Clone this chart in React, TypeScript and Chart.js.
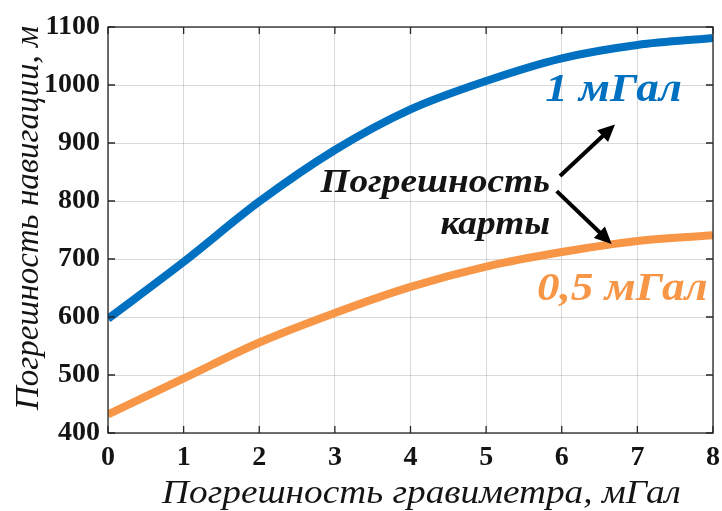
import React, { useEffect, useRef } from "react";
import { Chart, registerables } from "chart.js";

Chart.register(...registerables);

// ---- data ----
const xValues = [0, 1, 2, 3, 4, 5, 6, 7, 8];
const error1mGal = [597, 695, 799, 888, 958, 1007, 1046, 1069, 1081];
const error05mGal = [432, 494, 556, 607, 652, 687, 712, 731, 741];
const seriesLabels = ["1 мГал", "0,5 мГал"];
const xTitle = "Погрешность гравиметра, мГал";
const yTitle = "Погрешность навигации, м";
const noteLines = ["Погрешность", "карты"];

const BLUE = "#0070C0";
const ORANGE = "#F79646";
const TEXT = "#141414";
const FONT = "'Liberation Serif', 'Times New Roman', serif";
const STRETCH = 1.13;

// annotation anchors in data coordinates (right-aligned text baselines)
const textNotes = [
  { text: seriesLabels[0], x: 7.59, y: 972, color: BLUE, size: 40 },
  { text: seriesLabels[1], x: 7.93, y: 629, color: ORANGE, size: 40 },
  { text: noteLines[0], x: 5.845, y: 815, color: TEXT, size: 33 },
  { text: noteLines[1], x: 5.845, y: 743, color: TEXT, size: 33 },
];
const arrows = [
  { x0: 5.977, y0: 843, x1: 6.704, y1: 932 },
  { x0: 5.933, y0: 817, x1: 6.66, y1: 726 },
];

function stretchedText(ctx: any, text: string, x: number, y: number, align: "right" | "center") {
  ctx.save();
  ctx.translate(x, y);
  ctx.scale(STRETCH, 1);
  ctx.textAlign = align;
  ctx.fillText(text, 0, 0);
  ctx.restore();
}

const framePlugin = {
  id: "frame",
  afterDatasetsDraw(chart: any) {
    const { ctx, chartArea: a, scales } = chart;
    const xs = scales.x;
    const ys = scales.y;
    ctx.save();
    // box
    ctx.strokeStyle = "#262626";
    ctx.lineWidth = 1.3;
    ctx.strokeRect(a.left, a.top, a.right - a.left, a.bottom - a.top);
    // inward ticks
    const tl = 7;
    ctx.beginPath();
    xs.ticks.forEach((t: any) => {
      const px = xs.getPixelForValue(t.value);
      ctx.moveTo(px, a.bottom);
      ctx.lineTo(px, a.bottom - tl);
      ctx.moveTo(px, a.top);
      ctx.lineTo(px, a.top + tl);
    });
    ys.ticks.forEach((t: any) => {
      const py = ys.getPixelForValue(t.value);
      ctx.moveTo(a.left, py);
      ctx.lineTo(a.left + tl, py);
      ctx.moveTo(a.right, py);
      ctx.lineTo(a.right - tl, py);
    });
    ctx.stroke();

    // text notes
    ctx.textBaseline = "alphabetic";
    textNotes.forEach((n) => {
      ctx.font = `italic bold ${n.size}px ${FONT}`;
      ctx.fillStyle = n.color;
      stretchedText(ctx, n.text, xs.getPixelForValue(n.x), ys.getPixelForValue(n.y), "right");
    });

    // arrows
    ctx.strokeStyle = "#000";
    ctx.fillStyle = "#000";
    ctx.lineWidth = 4;
    arrows.forEach((ar) => {
      const x0 = xs.getPixelForValue(ar.x0);
      const y0 = ys.getPixelForValue(ar.y0);
      const x1 = xs.getPixelForValue(ar.x1);
      const y1 = ys.getPixelForValue(ar.y1);
      const ang = Math.atan2(y1 - y0, x1 - x0);
      const hl = 17;
      const hw = 8;
      const bx = x1 - hl * Math.cos(ang);
      const by = y1 - hl * Math.sin(ang);
      ctx.beginPath();
      ctx.moveTo(x0, y0);
      ctx.lineTo(bx + 2 * Math.cos(ang), by + 2 * Math.sin(ang));
      ctx.stroke();
      ctx.beginPath();
      ctx.moveTo(x1, y1);
      ctx.lineTo(bx + hw * Math.sin(ang), by - hw * Math.cos(ang));
      ctx.lineTo(bx - hw * Math.sin(ang), by + hw * Math.cos(ang));
      ctx.closePath();
      ctx.fill();
    });

    // axis titles
    ctx.fillStyle = TEXT;
    ctx.font = `italic 33px ${FONT}`;
    ctx.textBaseline = "alphabetic";
    stretchedText(ctx, xTitle, (a.left + a.right) / 2 + 11, a.bottom + 70, "center");
    ctx.save();
    ctx.translate(a.left - 70, (a.top + a.bottom) / 2 - 12);
    ctx.rotate(-Math.PI / 2);
    ctx.textAlign = "center";
    ctx.fillText(yTitle, 0, 0);
    ctx.restore();
    ctx.restore();
  },
};

export default function App() {
  const ref = useRef<HTMLCanvasElement | null>(null);
  useEffect(() => {
    if (!ref.current) return;
    const chart = new Chart(ref.current, {
      type: "line",
      data: {
        datasets: [
          {
            label: seriesLabels[0],
            data: xValues.map((x, i) => ({ x, y: error1mGal[i] })),
            borderColor: BLUE,
            borderWidth: 8,
            pointRadius: 0,
            cubicInterpolationMode: "monotone",
            borderCapStyle: "butt",
            clip: 0,
          },
          {
            label: seriesLabels[1],
            data: xValues.map((x, i) => ({ x, y: error05mGal[i] })),
            borderColor: ORANGE,
            borderWidth: 8,
            pointRadius: 0,
            cubicInterpolationMode: "monotone",
            borderCapStyle: "butt",
            clip: 0,
          },
        ],
      },
      options: {
        animation: false,
        responsive: true,
        maintainAspectRatio: false,
        layout: { padding: { top: 27, right: 9, left: 0, bottom: 0 } },
        plugins: { legend: { display: false }, tooltip: { enabled: false } },
        scales: {
          x: {
            type: "linear",
            min: 0,
            max: 8,
            ticks: {
              stepSize: 1,
              color: TEXT,
              padding: 8,
              font: { family: FONT, size: 28, weight: "bold" },
              callback: (v: any) => String(v),
            },
            grid: { color: "rgba(0,0,0,0.15)", lineWidth: 1, drawTicks: false },
            border: { display: false },
            afterFit: (s: any) => {
              s.height = 78;
              s.paddingLeft = 0;
              s.paddingRight = 0;
            },
          },
          y: {
            type: "linear",
            min: 400,
            max: 1100,
            ticks: {
              stepSize: 100,
              color: TEXT,
              padding: 8,
              font: { family: FONT, size: 28, weight: "bold" },
              callback: (v: any) => String(v),
            },
            grid: { color: "rgba(0,0,0,0.15)", lineWidth: 1, drawTicks: false },
            border: { display: false },
            afterFit: (s: any) => {
              s.width = 108;
              s.paddingTop = 0;
              s.paddingBottom = 0;
            },
          },
        },
      },
      plugins: [framePlugin],
    } as any);
    return () => chart.destroy();
  }, []);
  return (
    <div style={{ position: "absolute", left: 0, top: 0, width: 722, height: 511, background: "#fff" }}>
      <canvas ref={ref} />
    </div>
  );
}
